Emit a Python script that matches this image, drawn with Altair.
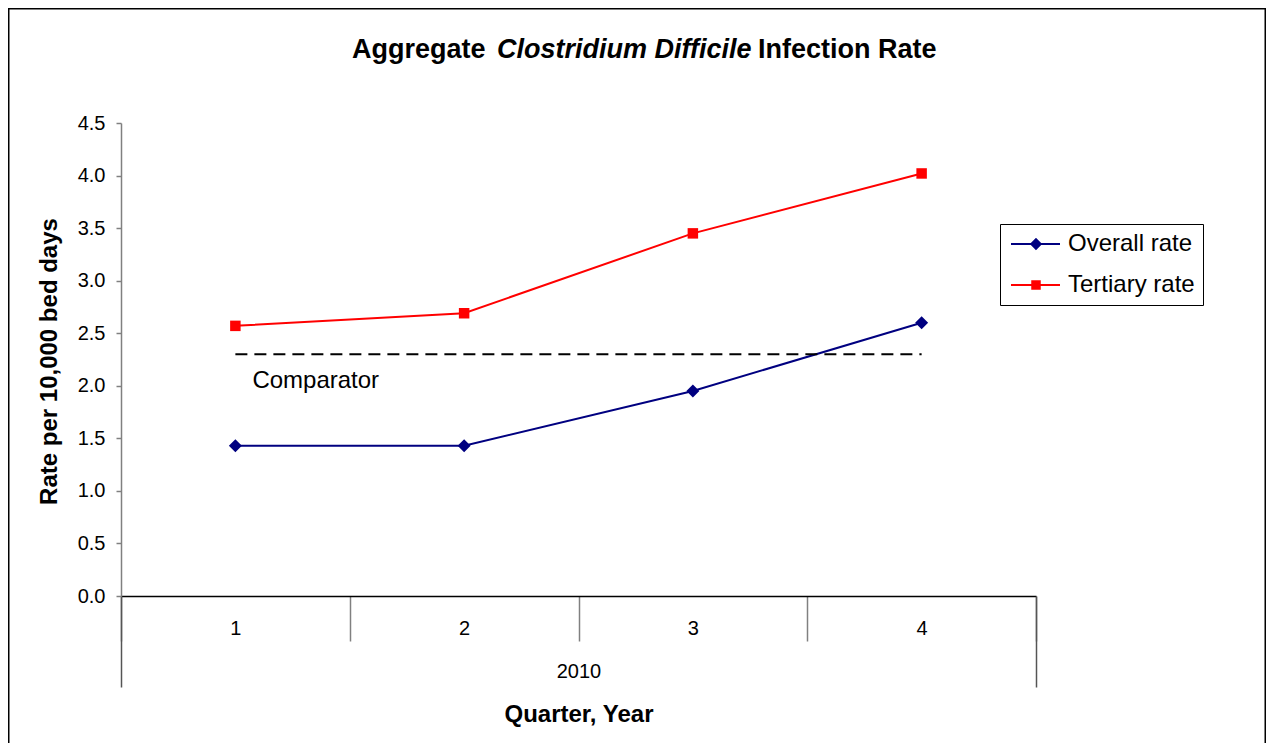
import altair as alt
import pandas as pd

# ---- data ----
quarters = ["1", "2", "3", "4"]
years = ["2010"]
series_names = ["Overall rate", "Tertiary rate"]
overall_rate = [1.43, 1.43, 1.95, 2.60]
tertiary_rate = [2.57, 2.69, 3.45, 4.02]
comparator_rate = [2.3, 2.3, 2.3, 2.3]
comparator_label = ["Comparator"]
y_tick_values = [0.0, 0.5, 1.0, 1.5, 2.0, 2.5, 3.0, 3.5, 4.0, 4.5]
title_parts = ["Aggregate", "Clostridium Difficile", "Infection Rate"]

series_colors = ["#000080", "#FF0000"]
FONT = "Liberation Sans"

df = pd.DataFrame({
    "quarter": quarters + quarters,
    "series": [series_names[0]] * len(quarters) + [series_names[1]] * len(quarters),
    "rate": overall_rate + tertiary_rate,
})
comp_df = pd.DataFrame({"quarter": quarters, "rate": comparator_rate})
comp_label_df = pd.DataFrame({"quarter": [quarters[0]], "rate": [comparator_rate[0]],
                              "label": comparator_label})
year_df = pd.DataFrame({"year": years})
one = pd.DataFrame({"a": [0]})

x_enc = alt.X(
    "quarter:N", sort=quarters, bandPosition=0.5, title=None,
    scale=alt.Scale(type="band", domain=quarters, paddingInner=0, paddingOuter=0),
    axis=alt.Axis(orient="bottom", tickBand="extent", tickSize=45, tickColor="#808080",
                  tickWidth=1.5, domainColor="#000000", domainWidth=1.5, labelAngle=0,
                  labelFontSize=20, labelColor="black", labelPadding=-23, labelFont=FONT,
                  grid=False, title=None),
)
y_enc = alt.Y(
    "rate:Q",
    scale=alt.Scale(domain=[0, 4.5], nice=False, zero=True),
    axis=alt.Axis(values=y_tick_values, format=".1f", tickSize=5, tickColor="#808080",
                  tickWidth=1.5, domainColor="#808080", domainWidth=1.5, labelFontSize=20,
                  labelColor="black", labelPadding=11, labelFont=FONT, grid=False,
                  title="Rate per 10,000 bed days", titleFontSize=24, titleFont=FONT,
                  titleFontWeight="bold", titleColor="black", titleX=-72, titleY=238,
                  titleAlign="center", titleBaseline="middle", titleAngle=270),
)

# legend symbols: a line with the marker on it (units of 5 px)
diamond_path = "M-1.8,0H8M3.2,-0.95L4.15,0L3.2,0.95L2.25,0Z"
square_path = "M-1.8,0H8M2.45,-0.75H3.95V0.75H2.45Z"

legend = alt.Legend(
    title=None, orient="none", legendX=879, legendY=101, strokeColor="black",
    fillColor="white", padding=8, labelFontSize=24, labelFont=FONT, labelColor="black",
    symbolSize=100, symbolStrokeWidth=2, symbolOpacity=1, labelOffset=36, rowPadding=17,
)

color_scale = alt.Scale(domain=series_names, range=series_colors)

# invisible layer that only carries the legend (first, so its legend settings win)
legend_layer = alt.Chart(df).mark_point(filled=True, strokeWidth=2).encode(
    x=x_enc, y=y_enc,
    opacity=alt.value(0),
    color=alt.Color("series:N", scale=color_scale, legend=legend),
    stroke=alt.Stroke("series:N", scale=alt.Scale(domain=series_names, range=series_colors), legend=legend),
    shape=alt.Shape("series:N", scale=alt.Scale(domain=series_names, range=[diamond_path, square_path]), legend=legend),
)
lines = alt.Chart(df).mark_line(strokeWidth=2).encode(
    x=x_enc, y=y_enc, color=alt.Color("series:N", scale=color_scale, legend=None)
)
pts_overall = alt.Chart(df).transform_filter(
    alt.datum.series == series_names[0]
).mark_point(filled=True, opacity=1, shape="diamond", size=170).encode(
    x=x_enc, y=y_enc, color=alt.Color("series:N", scale=color_scale, legend=None)
)
pts_tertiary = alt.Chart(df).transform_filter(
    alt.datum.series == series_names[1]
).mark_point(filled=True, opacity=1, shape="square", size=110).encode(
    x=x_enc, y=y_enc, color=alt.Color("series:N", scale=color_scale, legend=None)
)
comp_line = alt.Chart(comp_df).mark_line(color="black", strokeDash=[12, 7], strokeWidth=2).encode(
    x=x_enc, y=y_enc
)
comp_text = alt.Chart(comp_label_df).mark_text(
    align="left", baseline="middle", dx=17, dy=27, fontSize=24, font=FONT, color="black"
).encode(x=x_enc, y=y_enc, text="label:N")

inner = alt.layer(legend_layer, lines, pts_overall, pts_tertiary, comp_line, comp_text)

year_layer = alt.Chart(year_df).mark_tick(opacity=0).encode(
    x=alt.X("year:N", scale=alt.Scale(type="band", paddingInner=0, paddingOuter=0),
            axis=alt.Axis(orient="bottom", tickBand="extent", tickSize=91, tickColor="#555555",
                          tickWidth=1.5, domain=False, labelFontSize=20, labelPadding=-26,
                          labelAngle=0, labelColor="black", labelFont=FONT, grid=False,
                          title="Quarter, Year", titleFontSize=24, titleFont=FONT,
                          titleFontWeight="bold", titleColor="black", titleY=118,
                          titleBaseline="middle"))
)

frame = alt.Chart(one).mark_rect(filled=False, stroke="black", strokeWidth=1.5).encode(
    x=alt.value(-112.25), x2=alt.value(1144.25), y=alt.value(-114.25), y2=alt.value(660)
)
t1 = alt.Chart(one).mark_text(text=title_parts[0], align="left", baseline="alphabetic",
                              fontSize=27, fontWeight="bold", font=FONT, color="black").encode(
    x=alt.value(231), y=alt.value(-65))
t2 = alt.Chart(one).mark_text(text=title_parts[1], align="left", baseline="alphabetic",
                              fontSize=27, fontWeight="bold", fontStyle="italic", font=FONT,
                              color="black").encode(x=alt.value(376), y=alt.value(-65))
t3 = alt.Chart(one).mark_text(text=title_parts[2], align="left", baseline="alphabetic",
                              fontSize=27, fontWeight="bold", font=FONT, color="black").encode(
    x=alt.value(637), y=alt.value(-65))

chart = alt.layer(frame, t1, t2, t3, inner, year_layer).resolve_scale(
    x="independent"
).resolve_axis(x="independent").properties(
    width=915, height=473,
    autosize=alt.AutoSizeParams(type="none"),
    padding={"left": 113, "top": 115, "right": 230, "bottom": 147},
    background="white",
).configure(font=FONT, view=alt.ViewConfig(stroke="transparent", strokeWidth=0))

chart.save("out.html", embed_options={"renderer": "svg", "actions": False})
